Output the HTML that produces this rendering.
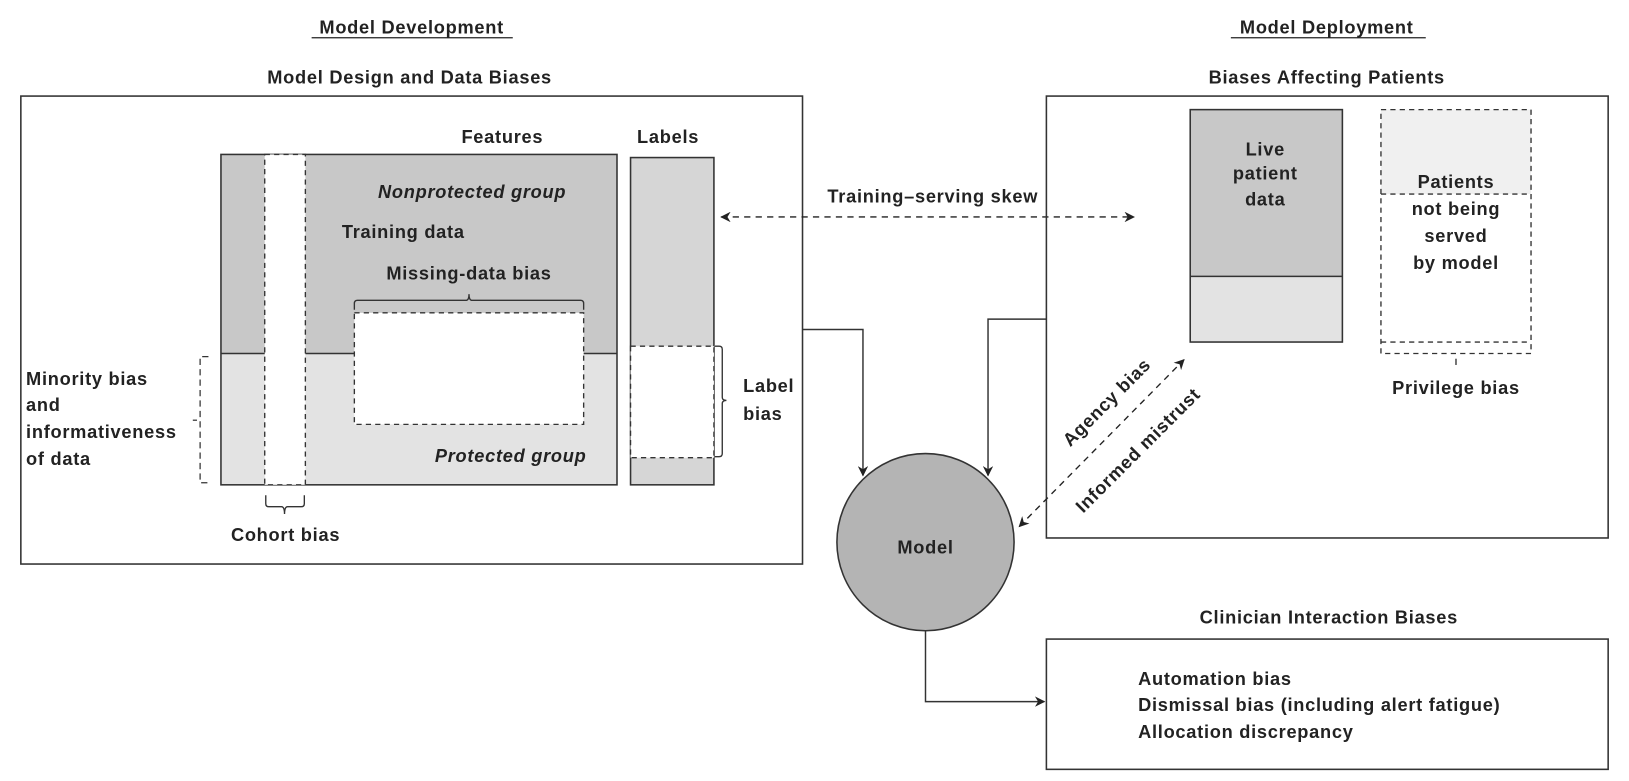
<!DOCTYPE html>
<html><head><meta charset="utf-8"><style>
html,body{margin:0;padding:0;background:#fff;}
svg{display:block;}
text{font-family:"Liberation Sans",sans-serif;font-size:17.5px;font-weight:bold;fill:#222;letter-spacing:0.7px;}
</style></head><body>
<svg width="1629" height="781" viewBox="0 0 1563 749" xmlns="http://www.w3.org/2000/svg">
<defs>
<marker id="ah" markerWidth="10" markerHeight="10" refX="9" refY="5" orient="auto" markerUnits="userSpaceOnUse">
<path d="M0,0 L10,5 L0,10 L3,5 z" fill="#222"/></marker>
<marker id="ahs" markerWidth="10" markerHeight="10" refX="1" refY="5" orient="auto" markerUnits="userSpaceOnUse">
<path d="M10,0 L0,5 L10,10 L7,5 z" fill="#222"/></marker>
</defs>
<text x="395" y="32" text-anchor="middle">Model Development</text>
<line x1="299" y1="36" x2="492" y2="36" stroke="#222" stroke-width="1.2"/>
<text x="1273" y="32" text-anchor="middle">Model Deployment</text>
<line x1="1181" y1="36" x2="1368" y2="36" stroke="#222" stroke-width="1.2"/>
<text x="393" y="80" text-anchor="middle">Model Design and Data Biases</text>
<text x="1273" y="80" text-anchor="middle">Biases Affecting Patients</text>

<rect x="20" y="92" width="750" height="449" fill="#fff" stroke="#333" stroke-width="1.5"/>
<text x="482" y="137" text-anchor="middle">Features</text>
<text x="641" y="137" text-anchor="middle">Labels</text>
<rect x="212" y="148" width="380" height="191" fill="#c8c8c8"/>
<rect x="212" y="339" width="380" height="126" fill="#e3e3e3"/>
<rect x="212" y="148" width="380" height="317" fill="none" stroke="#333" stroke-width="1.5"/>
<line x1="212" y1="339" x2="592" y2="339" stroke="#333" stroke-width="1.5"/>
<rect x="254" y="148" width="39" height="317" fill="#fff" stroke="#333" stroke-width="1.3" stroke-dasharray="5,4"/>
<text x="453" y="190" text-anchor="middle" font-style="italic">Nonprotected group</text>
<text x="328" y="228">Training data</text>
<text x="450" y="268" text-anchor="middle">Missing-data bias</text>
<path d="M340,297 v-6 q0,-3 3,-3 h104 q3,0 3,-6 q0,6 3,6 h104 q3,0 3,3 v6" fill="none" stroke="#333" stroke-width="1.3"/>
<rect x="340" y="300" width="220" height="107" fill="#fff" stroke="#333" stroke-width="1.3" stroke-dasharray="5,4"/>
<text x="490" y="443" text-anchor="middle" font-style="italic">Protected group</text>
<rect x="605" y="151" width="80" height="314" fill="#d6d6d6" stroke="#333" stroke-width="1.5"/>
<rect x="605" y="332" width="80" height="107" fill="#fff" stroke="#333" stroke-width="1.3" stroke-dasharray="5,4"/>
<path d="M686,332 h4 q3,0 3,3 v46 q0,3 4,3 q-4,0 -4,3 v48 q0,3 -3,3 h-4" fill="none" stroke="#333" stroke-width="1.3"/>
<text x="713" y="376">Label</text>
<text x="713" y="403">bias</text>
<path d="M200,342 h-8 v121 h8" fill="none" stroke="#333" stroke-width="1.2" stroke-dasharray="6,4"/>
<line x1="185" y1="403" x2="189" y2="403" stroke="#333" stroke-width="1.2"/>
<text x="25" y="369">Minority bias</text>
<text x="25" y="394">and</text>
<text x="25" y="420">informativeness</text>
<text x="25" y="446">of data</text>
<path d="M255,475 v8 q0,3 3,3 h12 q3,0 3,7 q0,-7 3,-7 h13 q3,0 3,-3 v-8" fill="none" stroke="#333" stroke-width="1.3"/>
<text x="274" y="519" text-anchor="middle">Cohort bias</text>

<text x="895" y="194" text-anchor="middle">Training–serving skew</text>
<line x1="692" y1="208" x2="1088" y2="208" stroke="#222" stroke-width="1.3" stroke-dasharray="6,5" marker-start="url(#ahs)" marker-end="url(#ah)"/>

<rect x="1004" y="92" width="539" height="424" fill="none" stroke="#333" stroke-width="1.5"/>
<rect x="1142" y="105" width="146" height="160" fill="#c8c8c8"/>
<rect x="1142" y="265" width="146" height="63" fill="#e3e3e3"/>
<rect x="1142" y="105" width="146" height="223" fill="none" stroke="#333" stroke-width="1.5"/>
<line x1="1142" y1="265" x2="1288" y2="265" stroke="#333" stroke-width="1.5"/>
<text x="1214" y="149" text-anchor="middle">Live</text>
<text x="1214" y="172" text-anchor="middle">patient</text>
<text x="1214" y="197" text-anchor="middle">data</text>
<rect x="1325" y="105" width="144" height="81" fill="#f0f0f0"/>
<rect x="1325" y="105" width="144" height="234" fill="none" stroke="#333" stroke-width="1.3" stroke-dasharray="5,4"/>
<line x1="1325" y1="186" x2="1469" y2="186" stroke="#333" stroke-width="1.3" stroke-dasharray="5,4"/>
<line x1="1325" y1="328" x2="1469" y2="328" stroke="#333" stroke-width="1.3" stroke-dasharray="5,4"/>
<line x1="1397" y1="344" x2="1397" y2="350" stroke="#333" stroke-width="1.3"/>
<text x="1397" y="180" text-anchor="middle">Patients</text>
<text x="1397" y="206" text-anchor="middle">not being</text>
<text x="1397" y="232" text-anchor="middle">served</text>
<text x="1397" y="258" text-anchor="middle">by model</text>
<text x="1397" y="378" text-anchor="middle">Privilege bias</text>

<circle cx="888" cy="520" r="85" fill="#b4b4b4" stroke="#333" stroke-width="1.5"/>
<text x="888" y="531" text-anchor="middle">Model</text>
<path d="M770,316 H828 V456" fill="none" stroke="#333" stroke-width="1.4" marker-end="url(#ah)"/>
<path d="M1004,306 H948 V456" fill="none" stroke="#333" stroke-width="1.4" marker-end="url(#ah)"/>
<line x1="978" y1="505" x2="1136" y2="345" stroke="#222" stroke-width="1.3" stroke-dasharray="6,5" marker-start="url(#ahs)" marker-end="url(#ah)"/>
<text transform="translate(1066,390) rotate(-45)" text-anchor="middle">Agency bias</text>
<text transform="translate(1096,436) rotate(-45)" text-anchor="middle">Informed mistrust</text>
<path d="M888,605 V673 H1002" fill="none" stroke="#333" stroke-width="1.4" marker-end="url(#ah)"/>

<text x="1275" y="598" text-anchor="middle">Clinician Interaction Biases</text>
<rect x="1004" y="613" width="539" height="125" fill="none" stroke="#333" stroke-width="1.5"/>
<text x="1092" y="657">Automation bias</text>
<text x="1092" y="682">Dismissal bias (including alert fatigue)</text>
<text x="1092" y="708">Allocation discrepancy</text>
</svg>
</body></html>
